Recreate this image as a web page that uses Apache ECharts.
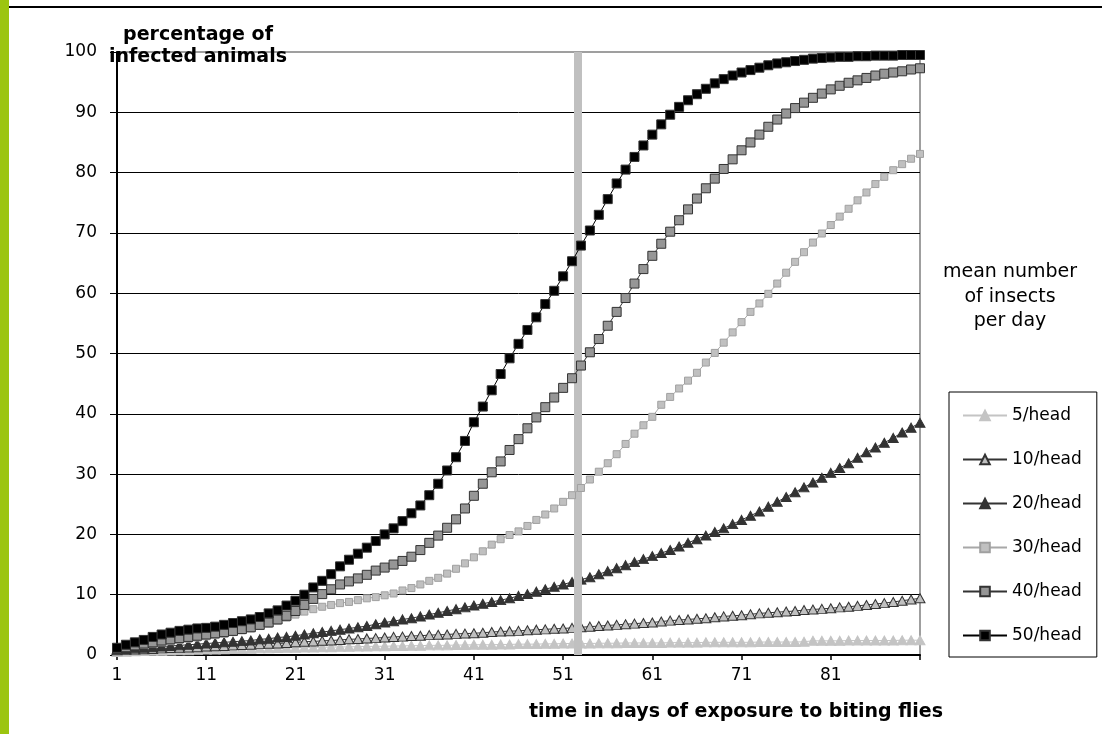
<!DOCTYPE html>
<html>
<head>
<meta charset="utf-8">
<title>percentage of infected animals</title>
<script src="https://cdn.jsdelivr.net/npm/echarts@6/dist/echarts.min.js"></script>
<style>
  html, body { margin: 0; padding: 0; background: #fff; }
  #chart { width: 1102px; height: 734px; }
</style>
</head>
<body>
<div id="chart"></div>
<script>
const days = [
  1, 2, 3, 4, 5, 6, 7, 8, 9, 10,
  11, 12, 13, 14, 15, 16, 17, 18, 19, 20,
  21, 22, 23, 24, 25, 26, 27, 28, 29, 30,
  31, 32, 33, 34, 35, 36, 37, 38, 39, 40,
  41, 42, 43, 44, 45, 46, 47, 48, 49, 50,
  51, 52, 53, 54, 55, 56, 57, 58, 59, 60,
  61, 62, 63, 64, 65, 66, 67, 68, 69, 70,
  71, 72, 73, 74, 75, 76, 77, 78, 79, 80,
  81, 82, 83, 84, 85, 86, 87, 88, 89, 90, 91
];

const head5 = [
  0.5, 0.55, 0.6, 0.65, 0.7, 0.7, 0.75, 0.8, 0.8, 0.85,
  0.9, 0.9, 0.95, 1.0, 1.0, 1.05, 1.1, 1.1, 1.15, 1.2,
  1.2, 1.25, 1.25, 1.3, 1.3, 1.35, 1.35, 1.4, 1.4, 1.45,
  1.45, 1.5, 1.5, 1.55, 1.55, 1.6, 1.6, 1.6, 1.65, 1.65,
  1.7, 1.7, 1.7, 1.75, 1.75, 1.8, 1.8, 1.8, 1.85, 1.85,
  1.9, 1.9, 1.9, 1.9, 1.95, 1.95, 1.95, 2.0, 2.0, 2.0,
  2.0, 2.0, 2.05, 2.05, 2.05, 2.05, 2.1, 2.1, 2.1, 2.1,
  2.1, 2.1, 2.15, 2.15, 2.15, 2.15, 2.15, 2.2, 2.35, 2.35,
  2.35, 2.35, 2.4, 2.4, 2.4, 2.4, 2.4, 2.4, 2.45, 2.45, 2.45
];

const head10 = [
  0.8, 0.85, 0.9, 0.95, 1.0, 1.1, 1.15, 1.2, 1.25, 1.3,
  1.4, 1.45, 1.5, 1.6, 1.65, 1.7, 1.8, 1.85, 1.9, 2.0,
  2.1, 2.2, 2.25, 2.35, 2.4, 2.5, 2.6, 2.65, 2.75, 2.8,
  2.9, 3.0, 3.05, 3.15, 3.2, 3.3, 3.35, 3.4, 3.5, 3.55,
  3.6, 3.7, 3.8, 3.9, 3.95, 4.0, 4.1, 4.2, 4.25, 4.35,
  4.4, 4.5, 4.6, 4.7, 4.8, 4.9, 5.0, 5.1, 5.2, 5.3,
  5.4, 5.55, 5.7, 5.8, 5.9, 6.0, 6.1, 6.25, 6.4, 6.5,
  6.6, 6.75, 6.9, 7.0, 7.1, 7.2, 7.3, 7.45, 7.55, 7.65,
  7.75, 7.9, 8.0, 8.15, 8.3, 8.45, 8.6, 8.8, 9.0, 9.2, 9.4
];

const head20 = [
  0.9, 1.0, 1.1, 1.2, 1.3, 1.4, 1.5, 1.6, 1.7, 1.8,
  1.9, 2.0, 2.1, 2.2, 2.3, 2.4, 2.6, 2.7, 2.9, 3.0,
  3.2, 3.4, 3.6, 3.8, 4.0, 4.2, 4.4, 4.6, 4.8, 5.1,
  5.4, 5.6, 5.9, 6.1, 6.4, 6.7, 7.0, 7.3, 7.6, 7.9,
  8.2, 8.5, 8.8, 9.1, 9.4, 9.8, 10.1, 10.5, 10.9, 11.3,
  11.7, 12.1, 12.5, 12.9, 13.4, 13.9, 14.4, 14.9, 15.4, 15.9,
  16.4, 16.9, 17.4, 18.0, 18.6, 19.2, 19.8, 20.4, 21.0, 21.7,
  22.4, 23.1, 23.8, 24.6, 25.4, 26.2, 27.0, 27.8, 28.6, 29.4,
  30.2, 31.0, 31.8, 32.7, 33.6, 34.4, 35.2, 36.0, 36.9, 37.7, 38.5
];

const head30 = [
  1.0, 1.2, 1.5, 1.7, 1.9, 2.1, 2.3, 2.5, 2.7, 2.9,
  3.1, 3.3, 3.5, 3.8, 4.1, 4.4, 4.8, 5.2, 5.7, 6.2,
  6.7, 7.2, 7.6, 8.0, 8.3, 8.6, 8.8, 9.1, 9.4, 9.6,
  9.9, 10.2, 10.7, 11.1, 11.7, 12.3, 12.8, 13.5, 14.3, 15.2,
  16.2, 17.2, 18.3, 19.2, 19.9, 20.5, 21.4, 22.4, 23.3, 24.3,
  25.4, 26.5, 27.7, 29.1, 30.4, 31.8, 33.3, 35.0, 36.7, 38.1,
  39.5, 41.5, 42.8, 44.2, 45.5, 46.8, 48.5, 50.1, 51.8, 53.5,
  55.2, 56.9, 58.3, 59.9, 61.6, 63.4, 65.2, 66.8, 68.4, 69.9,
  71.3, 72.7, 74.0, 75.4, 76.7, 78.1, 79.3, 80.4, 81.4, 82.3, 83.1
];

const head40 = [
  1.0, 1.3, 1.6, 1.9, 2.1, 2.4, 2.6, 2.8, 3.0, 3.2,
  3.4, 3.6, 3.8, 4.0, 4.3, 4.6, 5.0, 5.4, 5.9, 6.5,
  7.3, 8.3, 9.3, 10.1, 10.9, 11.7, 12.2, 12.7, 13.3, 14.0,
  14.5, 15.0, 15.6, 16.3, 17.4, 18.6, 19.8, 21.1, 22.5, 24.3,
  26.4, 28.4, 30.3, 32.1, 34.0, 35.8, 37.6, 39.4, 41.1, 42.7,
  44.3, 45.9, 48.0, 50.2, 52.4, 54.6, 56.9, 59.2, 61.6, 64.0,
  66.2, 68.2, 70.2, 72.1, 73.9, 75.7, 77.4, 79.0, 80.6, 82.2,
  83.7, 85.0, 86.3, 87.6, 88.8, 89.8, 90.7, 91.6, 92.4, 93.1,
  93.8, 94.4, 94.9, 95.3, 95.7, 96.1, 96.4, 96.6, 96.8, 97.1, 97.3
];

const head50 = [
  1.2, 1.7, 2.1, 2.5, 3.0, 3.4, 3.7, 4.0, 4.2, 4.4,
  4.5, 4.7, 5.0, 5.3, 5.6, 5.9, 6.3, 6.9, 7.4, 8.2,
  9.0, 10.0, 11.2, 12.3, 13.4, 14.7, 15.8, 16.8, 17.8, 18.9,
  20.0, 21.0, 22.2, 23.5, 24.8, 26.5, 28.4, 30.6, 32.8, 35.5,
  38.6, 41.2, 43.9, 46.6, 49.2, 51.6, 53.9, 56.0, 58.2, 60.4,
  62.8, 65.3, 67.9, 70.4, 73.0, 75.6, 78.2, 80.5, 82.6, 84.5,
  86.3, 88.0, 89.6, 90.9, 92.0, 93.0, 93.9, 94.8, 95.5, 96.1,
  96.6, 97.0, 97.4, 97.8, 98.1, 98.3, 98.5, 98.7, 98.9, 99.0,
  99.1, 99.2, 99.2, 99.3, 99.3, 99.4, 99.4, 99.4, 99.5, 99.5, 99.5
];

// day where the grey reference bar stands
const markDay = 52.6;

(function () {
  const FONT = '"DejaVu Sans", Arial, sans-serif';

  const lines = [
    { name: "5/head", values: head5, symbol: "triangle", size: [10, 9], line: "#c4c4c4", fill: "#c4c4c4", border: "#c4c4c4" },
    { name: "10/head", values: head10, symbol: "triangle", size: [10, 9], line: "#333333", fill: "#c0c0c0", border: "#333333" },
    { name: "20/head", values: head20, symbol: "triangle", size: [10, 9], line: "#333333", fill: "#333333", border: "#333333" },
    { name: "30/head", values: head30, symbol: "rect", size: 7, line: "#a8a8a8", fill: "#c0c0c0", border: "#a0a0a0" },
    { name: "40/head", values: head40, symbol: "rect", size: 9, line: "#333333", fill: "#969696", border: "#333333" },
    { name: "50/head", values: head50, symbol: "rect", size: 9, line: "#000000", fill: "#000000", border: "#333333" }
  ];

  const series = lines.map((item, idx) => ({
    name: item.name,
    type: "line",
    data: days.map((d, i) => [d, item.values[i]]),
    symbol: item.symbol,
    symbolSize: item.size,
    showAllSymbol: true,
    lineStyle: { color: item.line, width: 1 },
    itemStyle: { color: item.fill, borderColor: item.border, borderWidth: 1 },
    emphasis: { disabled: true },
    z: 2 + idx
  }));

  series[series.length - 1].markLine = {
    silent: true,
    animation: false,
    symbol: ["none", "none"],
    label: { show: false },
    lineStyle: { color: "#c0c0c0", width: 8, type: "solid" },
    data: [{ xAxis: markDay }]
  };

  const chart = echarts.init(document.getElementById("chart"), null, { renderer: "canvas" });
  chart.setOption({
    backgroundColor: "#ffffff",
    animation: false,
    grid: {
      left: 117, right: 182, top: 52, bottom: 79,
      show: true, borderColor: "#808080", borderWidth: 1.5, backgroundColor: "transparent"
    },
    xAxis: {
      type: "value", min: 1, max: 91, interval: 10,
      axisLine: { lineStyle: { color: "#000", width: 2 } },
      axisTick: { length: 5, lineStyle: { color: "#000", width: 1.5 } },
      axisLabel: {
        color: "#000", fontFamily: FONT, fontSize: 17, margin: 12,
        formatter: (v) => (v === 91 ? "" : String(v))
      },
      splitLine: { show: false }
    },
    yAxis: {
      type: "value", min: 0, max: 100, interval: 10,
      axisLine: { show: true, lineStyle: { color: "#000", width: 2 } },
      axisTick: { show: true, length: 7, lineStyle: { color: "#000", width: 1 } },
      axisLabel: { color: "#000", fontFamily: FONT, fontSize: 17, margin: 20 },
      splitLine: { show: true, showMaxLine: false, lineStyle: { color: "#000", width: 1 } }
    },
    legend: {
      orient: "vertical", left: 949, top: 392,
      data: lines.map((item) => item.name),
      itemWidth: 44, itemHeight: 12, itemGap: 27,
      padding: [15, 15, 13, 13],
      borderColor: "#000", borderWidth: 1,
      selectedMode: false,
      textStyle: { color: "#000", fontFamily: FONT, fontSize: 17 }
    },
    graphic: [
      { type: "rect", shape: { x: 0, y: 0, width: 9, height: 734 }, style: { fill: "#9cc510" }, silent: true },
      { type: "line", shape: { x1: 9, y1: 7, x2: 1102, y2: 7 }, style: { stroke: "#000", lineWidth: 2 }, silent: true },
      {
        type: "text", x: 198, y: 46, silent: true,
        style: {
          text: "percentage of\ninfected animals", fill: "#000",
          font: "bold 19px " + FONT, lineHeight: 22, align: "center", verticalAlign: "middle"
        }
      },
      {
        type: "text", x: 1010, y: 297, silent: true,
        style: {
          text: "mean number\nof insects\nper day", fill: "#000",
          font: "19px " + FONT, lineHeight: 24.5, align: "center", verticalAlign: "middle"
        }
      },
      {
        type: "text", x: 736, y: 712, silent: true,
        style: {
          text: "time in days of exposure to biting flies", fill: "#000",
          font: "bold 19px " + FONT, align: "center", verticalAlign: "middle"
        }
      }
    ],
    series
  });
})();
</script>
</body>
</html>
